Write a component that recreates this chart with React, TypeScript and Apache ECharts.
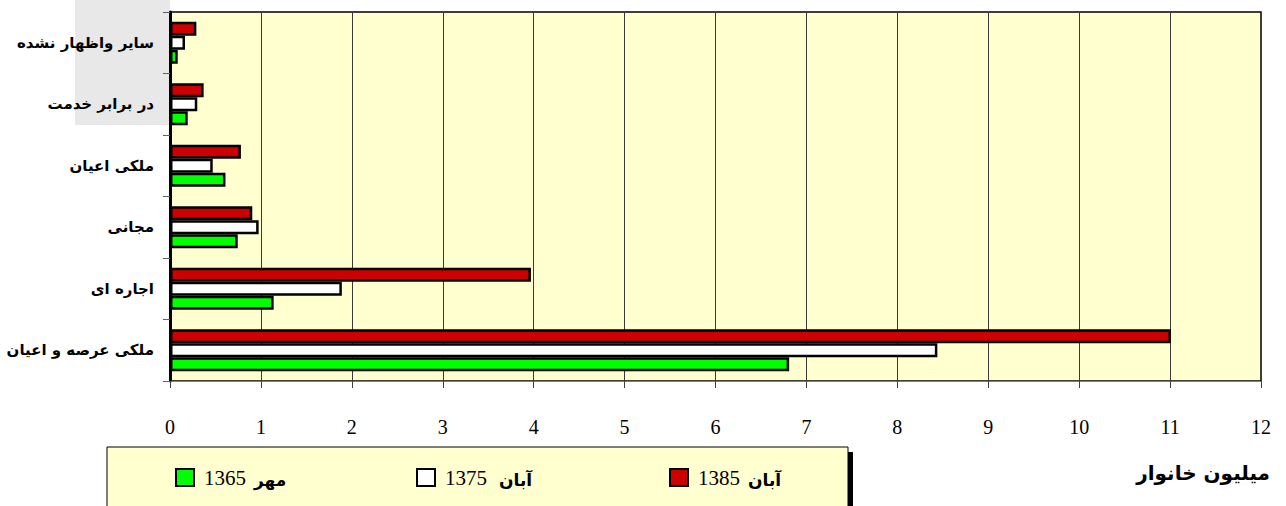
import React, { useEffect, useRef } from "react";
import * as echarts from "echarts";

const categories = [
  "ملکی عرصه و اعیان",
  "اجاره ای",
  "مجانی",
  "ملکی اعیان",
  "در برابر خدمت",
  "سایر واظهار نشده",
];
const seriesNames = ["مهر 1365", "آبان 1375", "آبان 1385"];
const seriesYears = ["1365", "1375", "1385"];
const seriesWords = ["مهر", "آبان", "آبان"];
const values1365 = [6.81, 1.14, 0.745, 0.61, 0.195, 0.085];
const values1375 = [8.44, 1.89, 0.975, 0.47, 0.3, 0.165];
const values1385 = [11.01, 3.97, 0.905, 0.78, 0.37, 0.29];
const seriesValues = [values1365, values1375, values1385];
const seriesColors = ["#00FF00", "#FFFFFF", "#CC0000"];
const axisMin = 0;
const axisMax = 12;
const axisInterval = 1;
const unitLabel = "میلیون خانوار";

const persianFont = "'DejaVu Sans', 'Noto Sans', sans-serif";
const digitFont = "'Liberation Serif', 'DejaVu Serif', serif";

export default function App() {
  const ref = useRef<HTMLDivElement>(null);

  useEffect(() => {
    if (!ref.current) return;
    const chart = echarts.init(ref.current, null, { renderer: "svg" });
    const legendLefts = [170, 411, 664];
    const order = [2, 1, 0];
    const option: any = {
      animation: false,
      backgroundColor: "#ffffff",
      grid: {
        left: 170,
        right: 25,
        top: 12,
        bottom: 125,
        show: true,
        backgroundColor: "#FFFFD0",
        borderColor: "#000000",
        borderWidth: 1.5,
      },
      xAxis: {
        type: "value",
        min: axisMin,
        max: axisMax,
        interval: axisInterval,
        axisLine: { show: true, lineStyle: { color: "#808080", width: 1 } },
        axisTick: { show: true, length: 7, lineStyle: { color: "#404040" } },
        axisLabel: {
          margin: 36,
          fontFamily: digitFont,
          fontSize: 20,
          color: "#000",
        },
        splitLine: { show: true, lineStyle: { color: "#3a3a3a", width: 1 } },
      },
      yAxis: {
        type: "category",
        data: categories,
        axisLine: { show: true, lineStyle: { color: "#000", width: 3 } },
        axisTick: { show: true, length: 7, lineStyle: { color: "#606060" } },
        axisLabel: {
          margin: 16,
          fontFamily: persianFont,
          fontWeight: "bold",
          fontSize: 15,
          color: "#000",
        },
      },
      legend: seriesNames.map((n, i) => ({
        data: [n],
        left: legendLefts[i],
        top: 462,
        itemWidth: 18,
        itemHeight: 17,
        itemGap: 0,
        icon: "rect",
        formatter: () => `{n|${seriesYears[i]}}{w|${seriesWords[i]}}`,
        textStyle: {
          padding: [0, 0, 0, 5],
          rich: {
            n: { fontFamily: digitFont, fontSize: 21, color: "#000" },
            w: {
              fontFamily: persianFont,
              fontWeight: "bold",
              fontSize: 17,
              color: "#000",
              padding: [4, 0, 0, i === 1 ? 12 : 8],
            },
          },
        },
      })),
      graphic: [
        {
          type: "rect",
          z: -10,
          shape: { x: 75, y: 0, width: 95, height: 125 },
          style: { fill: "#e8e8e8" },
        },
        {
          type: "rect",
          shape: { x: 107, y: 447, width: 741, height: 70 },
          style: { fill: "#FFFFD0", stroke: "#000", lineWidth: 1 },
        },
        {
          type: "rect",
          shape: { x: 848, y: 452, width: 5, height: 60 },
          style: { fill: "#000" },
        },
        {
          type: "text",
          right: 16,
          top: 463,
          style: {
            text: unitLabel,
            fontFamily: persianFont,
            fontWeight: "bold",
            fontSize: 20,
            fill: "#000",
          },
        },
      ],
      series: order.map((i) => ({
        name: seriesNames[i],
        type: "bar",
        data: seriesValues[i],
        barCategoryGap: "32%",
        barGap: "0%",
        itemStyle: {
          color: seriesColors[i],
          borderColor: "#000",
          borderWidth: 2.5,
        },
      })),
    };
    chart.setOption(option);
    return () => chart.dispose();
  }, []);

  return (
    <div
      ref={ref}
      style={{
        position: "fixed",
        left: 0,
        top: 0,
        width: 1286,
        height: 506,
        background: "#fff",
      }}
    />
  );
}
